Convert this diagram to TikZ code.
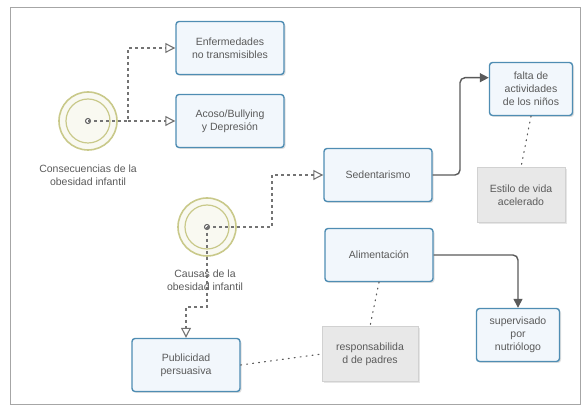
\documentclass[tikz,border=0pt]{standalone}
\usepackage{fontspec}
\setmainfont{Liberation Sans}
\usetikzlibrary{arrows.meta,shadows}

\definecolor{boxline}{HTML}{4F8DB3}
\definecolor{boxfill}{HTML}{F2F7FC}
\definecolor{ringcol}{HTML}{C9C98A}
\definecolor{txtcol}{HTML}{5A5A5A}
\definecolor{linecol}{HTML}{5A5A5A}

\begin{document}
\begin{tikzpicture}
		[
			x=1pt, y=-1pt,
			font=\fontsize{10.5}{13}\selectfont, text=txtcol,
			task/.style = {rectangle, rounded corners=3pt, align=center, draw=boxline, line width=1.4pt, fill=boxfill,
				minimum width=#1, minimum height=53pt, inner sep=1pt, drop shadow={opacity=0.25, shadow xshift=1.5pt, shadow yshift=-1.5pt}},
			task/.default = 108pt,
			note/.style = {rectangle, align=center, draw=black!18, fill=black!9, minimum width=#1, minimum height=55pt,
				inner sep=1pt, drop shadow={opacity=0.2, shadow xshift=2pt, shadow yshift=-2pt}},
			note/.default = 90pt,
			event/.style = {circle, draw=ringcol, line width=1.6pt, fill=ringcol!12, minimum size=58pt, inner sep=0pt},
			msgline/.style = {draw=linecol!85, line width=1.1pt, dash pattern=on 3pt off 3pt, -{Triangle[open, length=10pt, width=10pt]}},
			flow/.style = {draw=linecol, line width=1.4pt, rounded corners=5pt, -{Triangle[length=9pt, width=9pt]}},
			assoc/.style = {draw=linecol, line width=1.1pt, dash pattern=on 1pt off 5pt, line cap=round},
		]

		\useasboundingbox (0,0) rectangle (587,411);
		\draw[black!35, line width=1pt] (10,8) rectangle (580,405);

		% events
		\node[event] (cons) 	at (  88, 121 ) {};
		\node[event] (causas) 	at ( 207, 227 ) {};
		\foreach \ev in {cons,causas} {
			\draw[ringcol, line width=1.2pt] (\ev) circle (22pt);
			\draw[linecol, fill=white, line width=1pt] (\ev) circle (2.5pt);
		}
		\node[align=center] (conslbl) 	at (  88, 175 ) {Consecuencias de la\\obesidad infantil};
		\node[align=center] (causaslbl) at ( 205, 280 ) {Causas de la\\obesidad infantil};

		% tasks
		\node[task] (enf) 		at ( 230,  48 ) {Enfermedades\\no transmisibles};
		\node[task] (acoso) 	at ( 230, 121 ) {Acoso/Bullying\\y Depresión};
		\node[task] (sed) 		at ( 378, 175 ) {Sedentarismo};
		\node[task=83pt] (falta) 	at ( 531,  89 ) {falta de\\actividades\\de los niños};
		\node[task] (alim) 		at ( 379, 255 ) {Alimentación};
		\node[task=83pt] (superv) 	at ( 518, 335 ) {supervisado\\por\\nutriólogo};
		\node[task] (pub) 		at ( 186, 365 ) {Publicidad\\persuasiva};

		% notes
		\node[note=88pt] (estilo) 	at ( 521, 195 ) {Estilo de vida\\acelerado};
		\node[note=96pt] (resp) 	at ( 370, 354 ) {responsabilida\\d de padres};

		% bends
		\coordinate (jc) at ( 128, 121 );
		\coordinate (jd) at ( 272, 227 );
		\coordinate (je) at ( 207, 307 );
		\coordinate (js) at ( 460, 175 );

		\draw[msgline] (cons.center) -- (jc) |- (enf.west);
		\draw[msgline] (jc) -- (acoso.west);
		\draw[msgline] (causas.center) -- (jd) |- (sed.west);
		\draw[msgline] (causas.center) -- (je) -| (pub.north);

		\draw[flow] (sed.east) -- (js) |- (falta.165);
		\draw[flow] (alim.east) -| (superv.north);

		\foreach \from/\to in {falta.south/estilo.north, alim.south/resp.north, pub.east/resp.west}
		\draw[assoc] (\from) -- (\to);

		\end{tikzpicture}
\end{document}
